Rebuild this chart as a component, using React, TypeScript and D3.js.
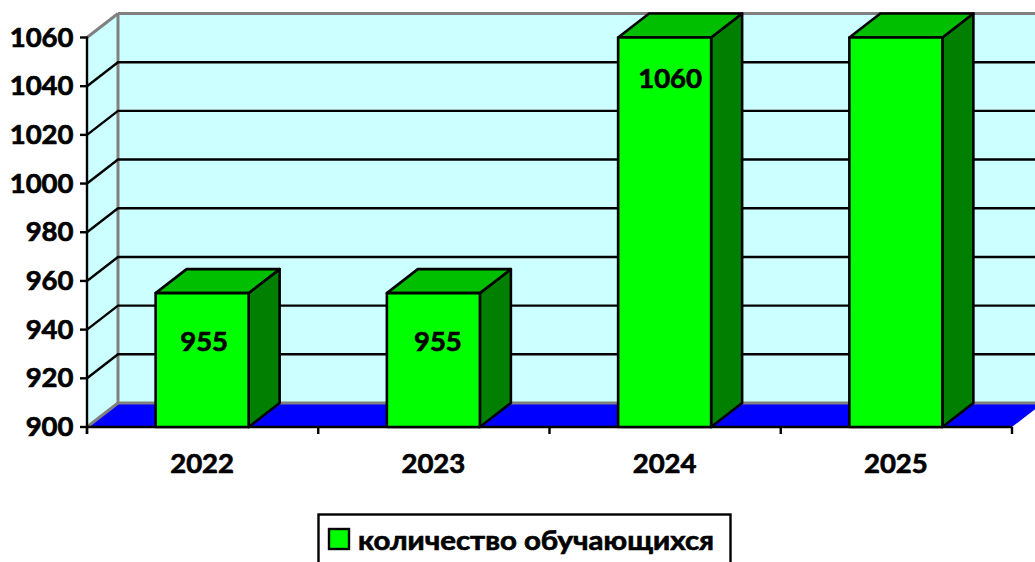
import React from "react";
import * as d3 from "d3";

const categories = ["2022", "2023", "2024", "2025"];
const values = [955, 955, 1060, 1060];
const dataLabels = ["955", "955", "1060", null];
const yTicks = [900, 920, 940, 960, 980, 1000, 1020, 1040, 1060];
const seriesName = "количество обучающихся";

const FONT = "Lato, Carlito, 'Open Sans', sans-serif";
const W = 1035, H = 562;
const depthX = 31, depthY = 24;

export default function App() {
  const x = d3.scaleBand<string>().domain(categories).range([87, 1012]);
  const y = d3.scaleLinear().domain([900, 1060]).range([427, 37.5]);
  const barW = 93;
  const base = y(900), top = y(1060);
  const xEdges = [...categories.map((c) => x(c)!), 1012];
  const poly = (pts: number[][]) => pts.map((p) => p.join(",")).join(" ");
  const L = 87, R = 1012;
  const textStyle = { stroke: "#000", strokeWidth: 0.7, paintOrder: "stroke" } as React.CSSProperties;
  return (
    <svg
      width={W}
      height={H}
      viewBox={`0 0 ${W} ${H}`}
      style={{ position: "absolute", left: 0, top: 0, fontFamily: FONT }}
    >
      <rect width={W} height={H} fill="#fff" />
      {/* walls */}
      <rect x={L + depthX} y={top - depthY} width={W} height={base - top} fill="#CCFFFF" />
      <polygon
        points={poly([[L, base], [L, top], [L + depthX, top - depthY], [L + depthX, base - depthY]])}
        fill="#CCFFFF"
      />
      {/* floor */}
      <polygon
        points={poly([[L, base], [L + depthX, base - depthY], [R + depthX, base - depthY], [R, base]])}
        fill="#0000FF"
      />
      {/* wall borders */}
      <g stroke="#808080" strokeWidth={3} fill="none">
        <line x1={L + depthX} x2={W} y1={top - depthY} y2={top - depthY} />
        <line x1={L + depthX} x2={L + depthX} y1={top - depthY} y2={base - depthY} />
        <line x1={L + depthX} x2={W} y1={base - depthY} y2={base - depthY} />
        <line x1={L} x2={L + depthX} y1={top} y2={top - depthY} />
        <line x1={L} x2={L + depthX} y1={base} y2={base - depthY} />
      </g>
      {/* gridlines */}
      <g stroke="#000" strokeWidth={2.4} fill="none">
        {yTicks.filter((t) => t !== 900 && t !== 1060).map((t) => (
          <polyline
            key={t}
            points={poly([[L, y(t)], [L + depthX, y(t) - depthY], [W, y(t) - depthY]])}
          />
        ))}
      </g>
      {/* axes */}
      <g stroke="#000" strokeWidth={2.4}>
        <line x1={L} x2={L} y1={top - 1} y2={base + 7} />
        <line x1={L} x2={R} y1={base} y2={base} />
        {yTicks.map((t) => (
          <line key={t} x1={L - 7} x2={L} y1={y(t)} y2={y(t)} />
        ))}
        {xEdges.map((e, i) => (
          <line key={i} x1={e} x2={e} y1={base} y2={base + 7} />
        ))}
      </g>
      {/* bars */}
      {categories.map((c, i) => {
        const x0 = x(c)! + (x.bandwidth() - barW) / 2 - 0.5;
        const x1 = x0 + barW;
        const yv = y(values[i]);
        return (
          <g key={c} stroke="#000" strokeWidth={2.6} strokeLinejoin="round">
            <polygon
              points={poly([[x1, base], [x1, yv], [x1 + depthX, yv - depthY], [x1 + depthX, base - depthY]])}
              fill="#007F00"
            />
            <polygon
              points={poly([[x0, yv], [x0 + depthX, yv - depthY], [x1 + depthX, yv - depthY], [x1, yv]])}
              fill="#00BF00"
            />
            <rect x={x0} y={yv} width={barW} height={base - yv} fill="#00FF00" />
          </g>
        );
      })}
      {/* data labels */}
      <g fontSize={27.5} fontWeight={700} fill="#000" textAnchor="middle" style={textStyle}>
        {categories.map((c, i) =>
          dataLabels[i] ? (
            <text key={c} x={x(c)! + x.bandwidth() / 2 + 1.5 + (i === 2 ? 3.5 : i === 1 ? 2.5 : 0)} y={y(values[i]) + (i === 2 ? 50 : 58)}>
              {dataLabels[i]}
            </text>
          ) : null
        )}
      </g>
      {/* axis labels */}
      <g fontSize={27.5} fontWeight={700} fill="#000" style={textStyle}>
        {yTicks.map((t) => (
          <text key={t} x={73.5} y={y(t) + 9} textAnchor="end">{t}</text>
        ))}
        {categories.map((c) => (
          <text key={c} x={x(c)! + x.bandwidth() / 2 - 0.5} y={473} textAnchor="middle">{c}</text>
        ))}
      </g>
      {/* legend */}
      <rect x={318.5} y={514.5} width={412} height={60} fill="#fff" stroke="#000" strokeWidth={2.4} />
      <rect x={329} y={529} width={20} height={20} fill="#00FF00" stroke="#000" strokeWidth={2.4} />
      <text
        x={358}
        y={550}
        fontSize={27.5}
        fontWeight={700}
        fill="#000"
        style={textStyle}
        textLength={356}
        lengthAdjust="spacingAndGlyphs"
      >
        {seriesName}
      </text>
    </svg>
  );
}
